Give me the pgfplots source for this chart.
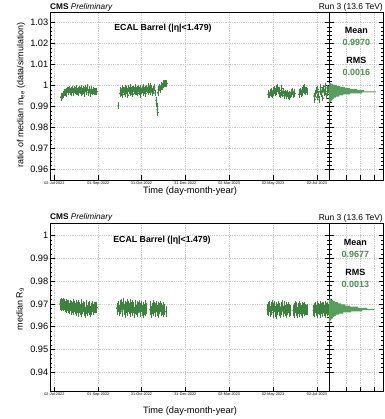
\documentclass[border=0pt]{standalone}
\usepackage{fontspec}
\setmainfont{Liberation Sans}
\usepackage{pgfplots}
\pgfplotsset{compat=1.18}
\usepackage{pgfplotstable}
\definecolor{dgreen}{RGB}{60,132,62}
\definecolor{hgreen}{RGB}{88,158,92}
\definecolor{tgreen}{RGB}{72,145,78}
\newcommand{\fs}[1]{\fontsize{#1}{#1}\selectfont}

% day (days since 02-Jul-2022)  value
\pgfplotstableread{
x y
9 0.9944
10 0.9946
11 0.9950
13 0.9957
14 0.9966
15 0.9968
16 0.9963
17 0.9972
18 0.9978
19 0.9969
20 0.9976
21 0.9981
22 0.9971
23 0.9979
24 0.9968
25 0.9983
26 0.9974
27 0.9966
28 0.9980
29 0.9975
30 0.9970
31 0.9985
32 0.9972
33 0.9979
34 0.9965
35 0.9982
36 0.9976
37 0.9968
38 0.9987
39 0.9973
40 0.9980
41 0.9962
42 0.9977
43 0.9984
44 0.9970
45 0.9975
46 0.9989
47 0.9966
48 0.9978
49 0.9983
50 0.9961
51 0.9974
52 0.9980
53 0.9969
54 0.9976
55 0.9972
57 0.9971
59 0.9970
89 0.9905
91 0.9962
92 0.9975
93 0.9968
94 0.9984
95 0.9958
96 0.9979
97 0.9970
98 0.9988
99 0.9963
100 0.9981
101 0.9973
102 0.9955
103 0.9984
104 0.9976
105 0.9966
106 0.9990
107 0.9972
108 0.9980
109 0.9960
110 0.9983
111 0.9975
112 0.9969
113 0.9991
114 0.9971
115 0.9982
116 0.9964
117 0.9985
118 0.9977
119 0.9958
120 0.9986
121 0.9974
122 0.9981
123 0.9967
124 0.9992
125 0.9976
126 0.9983
127 0.9962
128 0.9987
129 0.9978
130 0.9970
131 0.9995
132 0.9981
133 0.9998
134 0.9973
135 0.9986
136 0.9966
137 0.9980
138 0.9975
139 0.9989
140 0.9964
141.5 0.9930
142 0.9915
142.5 0.9900
143 0.9885
143.5 0.9872
144 0.9965
145 0.9982
146 0.9990
147 0.9978
148 0.9996
149 1.0002
150 0.9994
151 1.0008
152 1.0004
153 1.0010
154 1.0008
156 1.0009
297 0.9958
298 0.9962
299 0.9955
300 0.9968
301 0.9960
302 0.9972
303 0.9957
304 0.9975
305 0.9964
306 0.9980
307 0.9968
308 0.9985
309 0.9970
310 0.9990
311 0.9975
312 0.9962
313 0.9978
314 0.9955
315 0.9967
316 0.9986
317 0.9960
318 0.9974
319 0.9952
320 0.9958
321 0.9964
322 0.9950
323 0.9957
324 0.9962
325 0.9954
326 0.9948
327 0.9960
328 0.9955
329 0.9966
330 0.9962
331 0.9972
332 0.9958
333 0.9968
334 0.9961
340 0.9958
341 0.9965
342 0.9972
343 0.9962
344 0.9978
345 0.9968
346 0.9985
347 0.9975
348 0.9990
349 0.9970
350 0.9978
351 0.9973
361 0.9950
362 0.9935
363 0.9962
364 0.9975
365 0.9945
366 0.9982
367 0.9958
368 0.9932
369 0.9970
370 0.9990
371 0.9960
372 0.9978
373 0.9940
374 0.9985
375 0.9965
376 0.9995
377 0.9972
378 0.9950
379 0.9988
380 0.9968
381 0.9980
}\dataTop

\pgfplotstableread{
n y
2 1.0010
4 1.0005
8 1.0000
11 0.9995
16 0.9990
21 0.9985
28 0.9980
35 0.9975
47 0.9970
33 0.9965
21 0.9960
14 0.9955
10 0.9950
7 0.9945
5 0.9940
4 0.9935
3 0.9930
2 0.9925
1 0.9920
}\histTop

\pgfplotstableread{
x y
8 0.9699
9 0.9694
10 0.9701
11 0.9696
12 0.9703
13 0.9692
14 0.9698
15 0.9690
16 0.9697
17 0.9686
18 0.9693
19 0.9682
20 0.9695
21 0.9680
22 0.9691
23 0.9676
24 0.9689
25 0.9683
26 0.9697
27 0.9674
28 0.9688
29 0.9679
30 0.9694
31 0.9671
32 0.9685
33 0.9692
34 0.9668
35 0.9684
36 0.9677
37 0.9696
38 0.9665
39 0.9681
40 0.9690
41 0.9672
42 0.9686
43 0.9662
44 0.9679
45 0.9693
46 0.9670
47 0.9684
48 0.9675
49 0.9689
50 0.9666
51 0.9680
52 0.9673
53 0.9687
54 0.9677
55 0.9683
57 0.9682
59 0.9683
87 0.9681
88 0.9676
89 0.9688
90 0.9672
91 0.9693
92 0.9679
93 0.9698
94 0.9668
95 0.9685
96 0.9703
97 0.9674
98 0.9690
99 0.9664
100 0.9682
101 0.9696
102 0.9671
103 0.9687
104 0.9678
105 0.9699
106 0.9666
107 0.9684
108 0.9692
109 0.9670
110 0.9686
111 0.9661
112 0.9680
113 0.9695
114 0.9673
115 0.9688
116 0.9668
117 0.9683
118 0.9693
119 0.9665
120 0.9679
121 0.9689
122 0.9671
123 0.9685
124 0.9660
125 0.9677
126 0.9692
127 0.9669
128 0.9681
133 0.9674
134 0.9688
135 0.9663
136 0.9680
137 0.9692
138 0.9670
139 0.9684
140 0.9666
141 0.9678
142 0.9690
143 0.9672
144 0.9682
145 0.9664
146 0.9679
147 0.9687
148 0.9669
149 0.9680
150 0.9673
151 0.9685
152 0.9667
153 0.9676
155 0.9666
296 0.9676
297 0.9682
298 0.9670
299 0.9688
300 0.9665
301 0.9684
302 0.9673
303 0.9693
304 0.9662
305 0.9680
306 0.9687
307 0.9668
308 0.9683
309 0.9659
310 0.9677
311 0.9690
312 0.9670
313 0.9681
314 0.9664
315 0.9686
316 0.9674
317 0.9692
318 0.9666
319 0.9679
320 0.9688
321 0.9669
322 0.9682
323 0.9661
324 0.9677
325 0.9685
326 0.9668
327 0.9676
328 0.9672
332 0.9670
333 0.9680
334 0.9664
335 0.9687
336 0.9672
337 0.9683
338 0.9660
339 0.9678
340 0.9690
341 0.9667
342 0.9681
343 0.9671
344 0.9686
345 0.9663
346 0.9679
347 0.9684
348 0.9669
349 0.9677
350 0.9673
351 0.9675
360 0.9672
361 0.9681
362 0.9665
363 0.9686
364 0.9670
365 0.9690
366 0.9660
367 0.9680
368 0.9674
369 0.9688
370 0.9663
371 0.9679
372 0.9685
373 0.9667
374 0.9682
375 0.9671
376 0.9689
377 0.9664
378 0.9678
379 0.9684
380 0.9669
381 0.9676
}\dataBot

\pgfplotstableread{
n y
2 0.9720
4 0.9715
6 0.9710
9 0.9705
12 0.9700
16 0.9695
21 0.9690
29 0.9685
38 0.9680
45 0.9675
33 0.9670
22 0.9665
14 0.9660
10 0.9655
7 0.9650
5 0.9645
4 0.9640
3 0.9635
2 0.9630
1 0.9625
1 0.9620
}\histBot

\pgfplotsset{
  common/.style={
    scale only axis, anchor=south west, height=168bp,
    /pgf/number format/assume math mode=true,
    grid=major,
    grid style={gray!40, line width=0.3bp, dash pattern=on 1bp off 0.8bp},
    major tick length=4.5bp, minor tick length=2.5bp,
    tick style={black, line width=0.35bp},
    axis line style={black, line width=0.45bp},
    minor y tick num=4,
    clip=true,
  },
  mainax/.style={common, width=279bp, xmin=-6.1, xmax=381.7,
    xtick={0,61,121,182,243,304,365},
    xticklabels={02-Jul-2022,01-Sep-2022,31-Oct-2022,31-Dec-2022,02-Mar-2023,02-May-2023,02-Jul-2023},
    xtick pos=left,
    xticklabel style={font=\fs{3.8}, inner ysep=1.2bp},
    yticklabel style={font=\fs{9.3}, inner xsep=1.5bp},
  },
  histax/.style={common, width=54bp, xmin=0, xmax=54,
    xtick={17,31,45}, xticklabels={}, yticklabels={},
    xtick pos=left,
  },
  pts/.style={dgreen, only marks, mark=*, mark size=0.5bp, line width=0.7bp,
    error bars/.cd, y dir=both, y fixed=#1, x dir=both, x fixed=0.7,
    error mark=none, error bar style={line width=0.7bp}},
  hbar/.style={xbar, bar width=0.0005, fill=hgreen, draw=none, bar shift=0pt},
}

\begin{document}
\begin{tikzpicture}
\useasboundingbox (0,0) rectangle (385bp,419bp);

% ---------- top panel ----------
\begin{axis}[mainax, at={(50bp,239bp)}, ymin=0.955, ymax=1.035,
  ytick={0.96,0.97,0.98,0.99,1,1.01,1.02,1.03}]
  \addplot[pts=0.0016] table[x=x,y=y] {\dataTop};
\end{axis}
\begin{axis}[histax, at={(329bp,239bp)}, ymin=0.955, ymax=1.035,
  ytick={0.96,0.97,0.98,0.99,1,1.01,1.02,1.03}]
  \addplot[hbar] table[x=n,y=y] {\histTop};
\end{axis}

% ---------- bottom panel ----------
\begin{axis}[mainax, at={(50bp,27.5bp)}, ymin=0.9315, ymax=1.0053,
  ytick={0.94,0.95,0.96,0.97,0.98,0.99,1}]
  \addplot[pts=0.0024] table[x=x,y=y] {\dataBot};
\end{axis}
\begin{axis}[histax, at={(329bp,27.5bp)}, ymin=0.9315, ymax=1.0053,
  ytick={0.94,0.95,0.96,0.97,0.98,0.99,1}]
  \addplot[hbar] table[x=n,y=y] {\histBot};
\end{axis}

% ---------- texts top ----------
\node[anchor=base west, inner sep=0pt, font=\fs{8.3}] at (50bp,409.5bp) {\textbf{CMS} \textit{Preliminary}};
\node[anchor=base east, inner sep=0pt, font=\fs{8.5}] at (383bp,409.5bp) {Run 3 (13.6 TeV)};
\node[anchor=base, inner sep=0pt, font=\fs{8.8}\bfseries] at (163bp,388.5bp) {ECAL Barrel (|η|<1.479)};
\node[anchor=base, inner sep=0pt, font=\fs{9}\bfseries] at (356.3bp,385.7bp) {Mean};
\node[anchor=base, inner sep=0pt, font=\fs{9}\bfseries, text=tgreen] at (356.3bp,373.3bp) {0.9970};
\node[anchor=base, inner sep=0pt, font=\fs{9}\bfseries] at (356.3bp,355bp) {RMS};
\node[anchor=base, inner sep=0pt, font=\fs{9}\bfseries, text=tgreen] at (356.3bp,343.7bp) {0.0016};
\node[anchor=base, inner sep=0pt, font=\fs{9.3}] at (190bp,225bp) {Time (day-month-year)};
\node[anchor=center, inner sep=0pt, rotate=90, font=\fs{9}] at (21bp,324bp) {ratio of median m\textsubscript{ee} (data/simulation)};

% ---------- texts bottom ----------
\node[anchor=base west, inner sep=0pt, font=\fs{8.3}] at (50bp,199bp) {\textbf{CMS} \textit{Preliminary}};
\node[anchor=base east, inner sep=0pt, font=\fs{8.5}] at (383bp,198.5bp) {Run 3 (13.6 TeV)};
\node[anchor=base, inner sep=0pt, font=\fs{8.8}\bfseries] at (162bp,176.3bp) {ECAL Barrel (|η|<1.479)};
\node[anchor=base, inner sep=0pt, font=\fs{9}\bfseries] at (355.3bp,173.3bp) {Mean};
\node[anchor=base, inner sep=0pt, font=\fs{9}\bfseries, text=tgreen] at (355.3bp,161.3bp) {0.9677};
\node[anchor=base, inner sep=0pt, font=\fs{9}\bfseries] at (355.3bp,143.3bp) {RMS};
\node[anchor=base, inner sep=0pt, font=\fs{9}\bfseries, text=tgreen] at (355.3bp,131.7bp) {0.0013};
\node[anchor=base, inner sep=0pt, font=\fs{9.3}] at (190bp,5.5bp) {Time (day-month-year)};
\node[anchor=center, inner sep=0pt, rotate=90, font=\fs{9}] at (20bp,110bp) {median R\textsubscript{9}};
\end{tikzpicture}
\end{document}
